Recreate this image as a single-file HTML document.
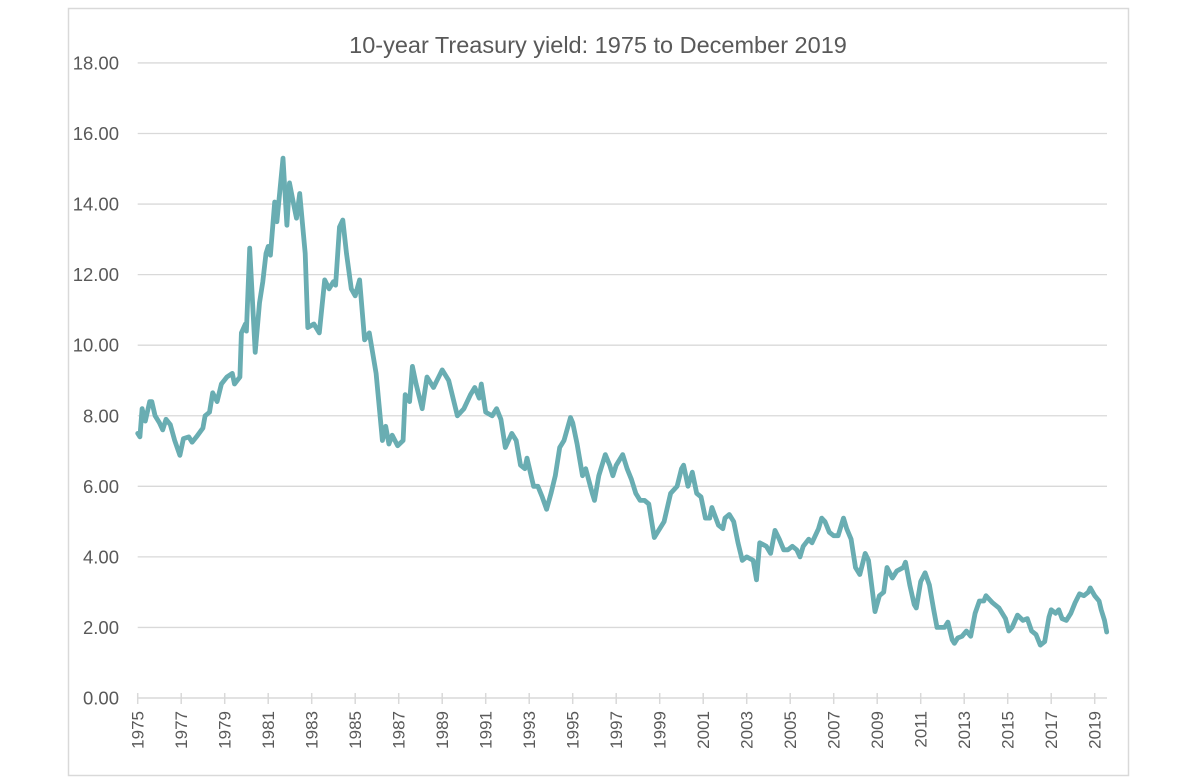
<!DOCTYPE html>
<html><head><meta charset="utf-8"><style>
body{margin:0;background:#fff;}
svg{display:block;font-family:"Liberation Sans",sans-serif;}
</style></head><body>
<svg id="chart" width="1200" height="783">
<rect x="68.5" y="8.5" width="1060" height="767" fill="#fff" stroke="#d9d9d9" stroke-width="1.5"/>
<text x="598" y="53" text-anchor="middle" font-size="23.5" fill="#595959">10-year Treasury yield: 1975 to December 2019</text>
<g id="grid"></g><g id="xaxis"></g><g id="series"></g>
</svg>
<script>
const yTicks=[0,2,4,6,8,10,12,14,16,18];
const xTickYears=[1975,1977,1979,1981,1983,1985,1987,1989,1991,1993,1995,1997,1999,2001,2003,2005,2007,2009,2011,2013,2015,2017,2019];
const dates=[1975.0,1975.1,1975.2,1975.35,1975.55,1975.65,1975.8,1976.0,1976.15,1976.3,1976.5,1976.7,1976.94,1977.1,1977.35,1977.5,1977.7,1978.0,1978.1,1978.3,1978.45,1978.65,1978.85,1979.1,1979.35,1979.45,1979.7,1979.77,1979.95,1980.0,1980.15,1980.4,1980.6,1980.75,1980.9,1981.0,1981.1,1981.3,1981.4,1981.68,1981.86,1981.98,1982.2,1982.3,1982.45,1982.7,1982.82,1983.1,1983.35,1983.6,1983.8,1984.0,1984.1,1984.28,1984.43,1984.6,1984.82,1985.0,1985.2,1985.43,1985.65,1985.96,1986.25,1986.4,1986.55,1986.7,1986.95,1987.2,1987.3,1987.5,1987.63,1987.8,1988.08,1988.3,1988.6,1989.0,1989.3,1989.7,1990.0,1990.3,1990.5,1990.7,1990.8,1991.0,1991.3,1991.5,1991.7,1991.9,1992.2,1992.4,1992.6,1992.8,1992.9,1993.2,1993.4,1993.6,1993.8,1994.0,1994.2,1994.4,1994.6,1994.9,1995.0,1995.2,1995.45,1995.6,1995.9,1996.0,1996.2,1996.5,1996.7,1996.85,1997.0,1997.3,1997.5,1997.7,1997.9,1998.1,1998.3,1998.5,1998.75,1998.9,1999.2,1999.5,1999.8,2000.0,2000.1,2000.3,2000.5,2000.7,2000.9,2001.1,2001.3,2001.4,2001.7,2001.9,2002.0,2002.2,2002.4,2002.6,2002.8,2003.0,2003.3,2003.45,2003.6,2003.9,2004.1,2004.3,2004.5,2004.7,2004.9,2005.1,2005.3,2005.45,2005.6,2005.85,2006.0,2006.3,2006.45,2006.6,2006.8,2007.0,2007.2,2007.45,2007.6,2007.8,2008.0,2008.2,2008.45,2008.6,2008.9,2009.1,2009.3,2009.45,2009.7,2009.9,2010.2,2010.3,2010.5,2010.7,2010.8,2011.0,2011.2,2011.4,2011.6,2011.75,2011.9,2012.1,2012.25,2012.45,2012.55,2012.7,2012.9,2013.1,2013.3,2013.5,2013.7,2013.9,2014.0,2014.3,2014.6,2014.9,2015.05,2015.2,2015.45,2015.7,2015.9,2016.1,2016.3,2016.5,2016.7,2016.9,2017.0,2017.2,2017.35,2017.5,2017.7,2017.9,2018.1,2018.3,2018.5,2018.7,2018.8,2019.0,2019.2,2019.3,2019.45,2019.55];
const yields=[7.5,7.4,8.2,7.85,8.4,8.4,8.0,7.8,7.6,7.9,7.75,7.3,6.88,7.35,7.4,7.25,7.4,7.65,8.0,8.1,8.65,8.4,8.9,9.1,9.2,8.9,9.1,10.35,10.6,10.4,12.75,9.8,11.2,11.8,12.6,12.8,12.55,14.06,13.5,15.3,13.4,14.6,13.9,13.6,14.3,12.6,10.5,10.6,10.35,11.85,11.6,11.8,11.7,13.35,13.55,12.6,11.6,11.4,11.85,10.15,10.35,9.2,7.3,7.7,7.2,7.45,7.15,7.3,8.6,8.4,9.4,8.9,8.2,9.1,8.8,9.3,9.0,8.0,8.2,8.6,8.8,8.5,8.9,8.1,8.0,8.2,7.9,7.1,7.5,7.3,6.6,6.5,6.8,6.0,6.0,5.7,5.35,5.8,6.3,7.1,7.3,7.95,7.8,7.2,6.3,6.5,5.8,5.6,6.3,6.9,6.6,6.3,6.6,6.9,6.5,6.2,5.8,5.6,5.6,5.5,4.55,4.7,5.0,5.8,6.0,6.5,6.6,6.0,6.4,5.8,5.7,5.1,5.1,5.4,4.9,4.8,5.1,5.2,5.0,4.4,3.9,4.0,3.9,3.35,4.4,4.3,4.1,4.75,4.5,4.2,4.2,4.3,4.2,4.0,4.3,4.5,4.4,4.8,5.1,5.0,4.7,4.6,4.6,5.1,4.8,4.5,3.7,3.5,4.1,3.9,2.45,2.9,3.0,3.7,3.4,3.6,3.7,3.85,3.2,2.65,2.55,3.3,3.55,3.2,2.5,2.0,2.0,2.0,2.15,1.65,1.55,1.7,1.75,1.9,1.75,2.4,2.75,2.75,2.9,2.7,2.55,2.25,1.9,2.0,2.35,2.2,2.25,1.9,1.8,1.5,1.6,2.3,2.5,2.4,2.5,2.25,2.2,2.4,2.7,2.95,2.9,3.0,3.12,2.9,2.75,2.5,2.2,1.87];
const NS='http://www.w3.org/2000/svg';
const X0=137.7,PXY=21.75,Y0=698,PXV=35.28;
const xs=d=>X0+(d-1975)*PXY, ys=v=>Y0-v*PXV;
const grid=document.getElementById('grid'),xa=document.getElementById('xaxis'),ser=document.getElementById('series');
function mk(tag,attrs,parent){const e=document.createElementNS(NS,tag);for(const k in attrs)e.setAttribute(k,attrs[k]);parent.appendChild(e);return e;}
yTicks.forEach(v=>{
  if(v>0){const l=mk('line',{x1:137.7,x2:1107,y1:ys(v),y2:ys(v),stroke:'#d9d9d9','stroke-width':1.3},grid);
  
  }
  const t=mk('text',{x:119,y:ys(v)+6.5,'text-anchor':'end','font-size':18.5,fill:'#595959'},grid);
  t.textContent=v.toFixed(2);
  
  
});
const ax=mk('line',{x1:137.7,x2:1107,y1:Y0,y2:Y0,stroke:'#d9d9d9','stroke-width':1.5},xa);


xTickYears.forEach(yr=>{
  const x=xs(yr);
  const tk=mk('line',{x1:x,x2:x,y1:Y0-5,y2:Y0+6,stroke:'#d9d9d9','stroke-width':1.5},xa);
  
  
  const t=mk('text',{x:0,y:0,'text-anchor':'end','font-size':17,fill:'#595959',transform:`translate(${x+6},711) rotate(-90)`},xa);
  t.textContent=yr;
  
  
});
const p=mk('polyline',{points:dates.map((d,i)=>xs(d).toFixed(1)+','+ys(yields[i]).toFixed(1)).join(' '),fill:'none',stroke:'#69adb2','stroke-width':4.8,'stroke-linejoin':'round','stroke-linecap':'round'},ser);


</script>
</body></html>
